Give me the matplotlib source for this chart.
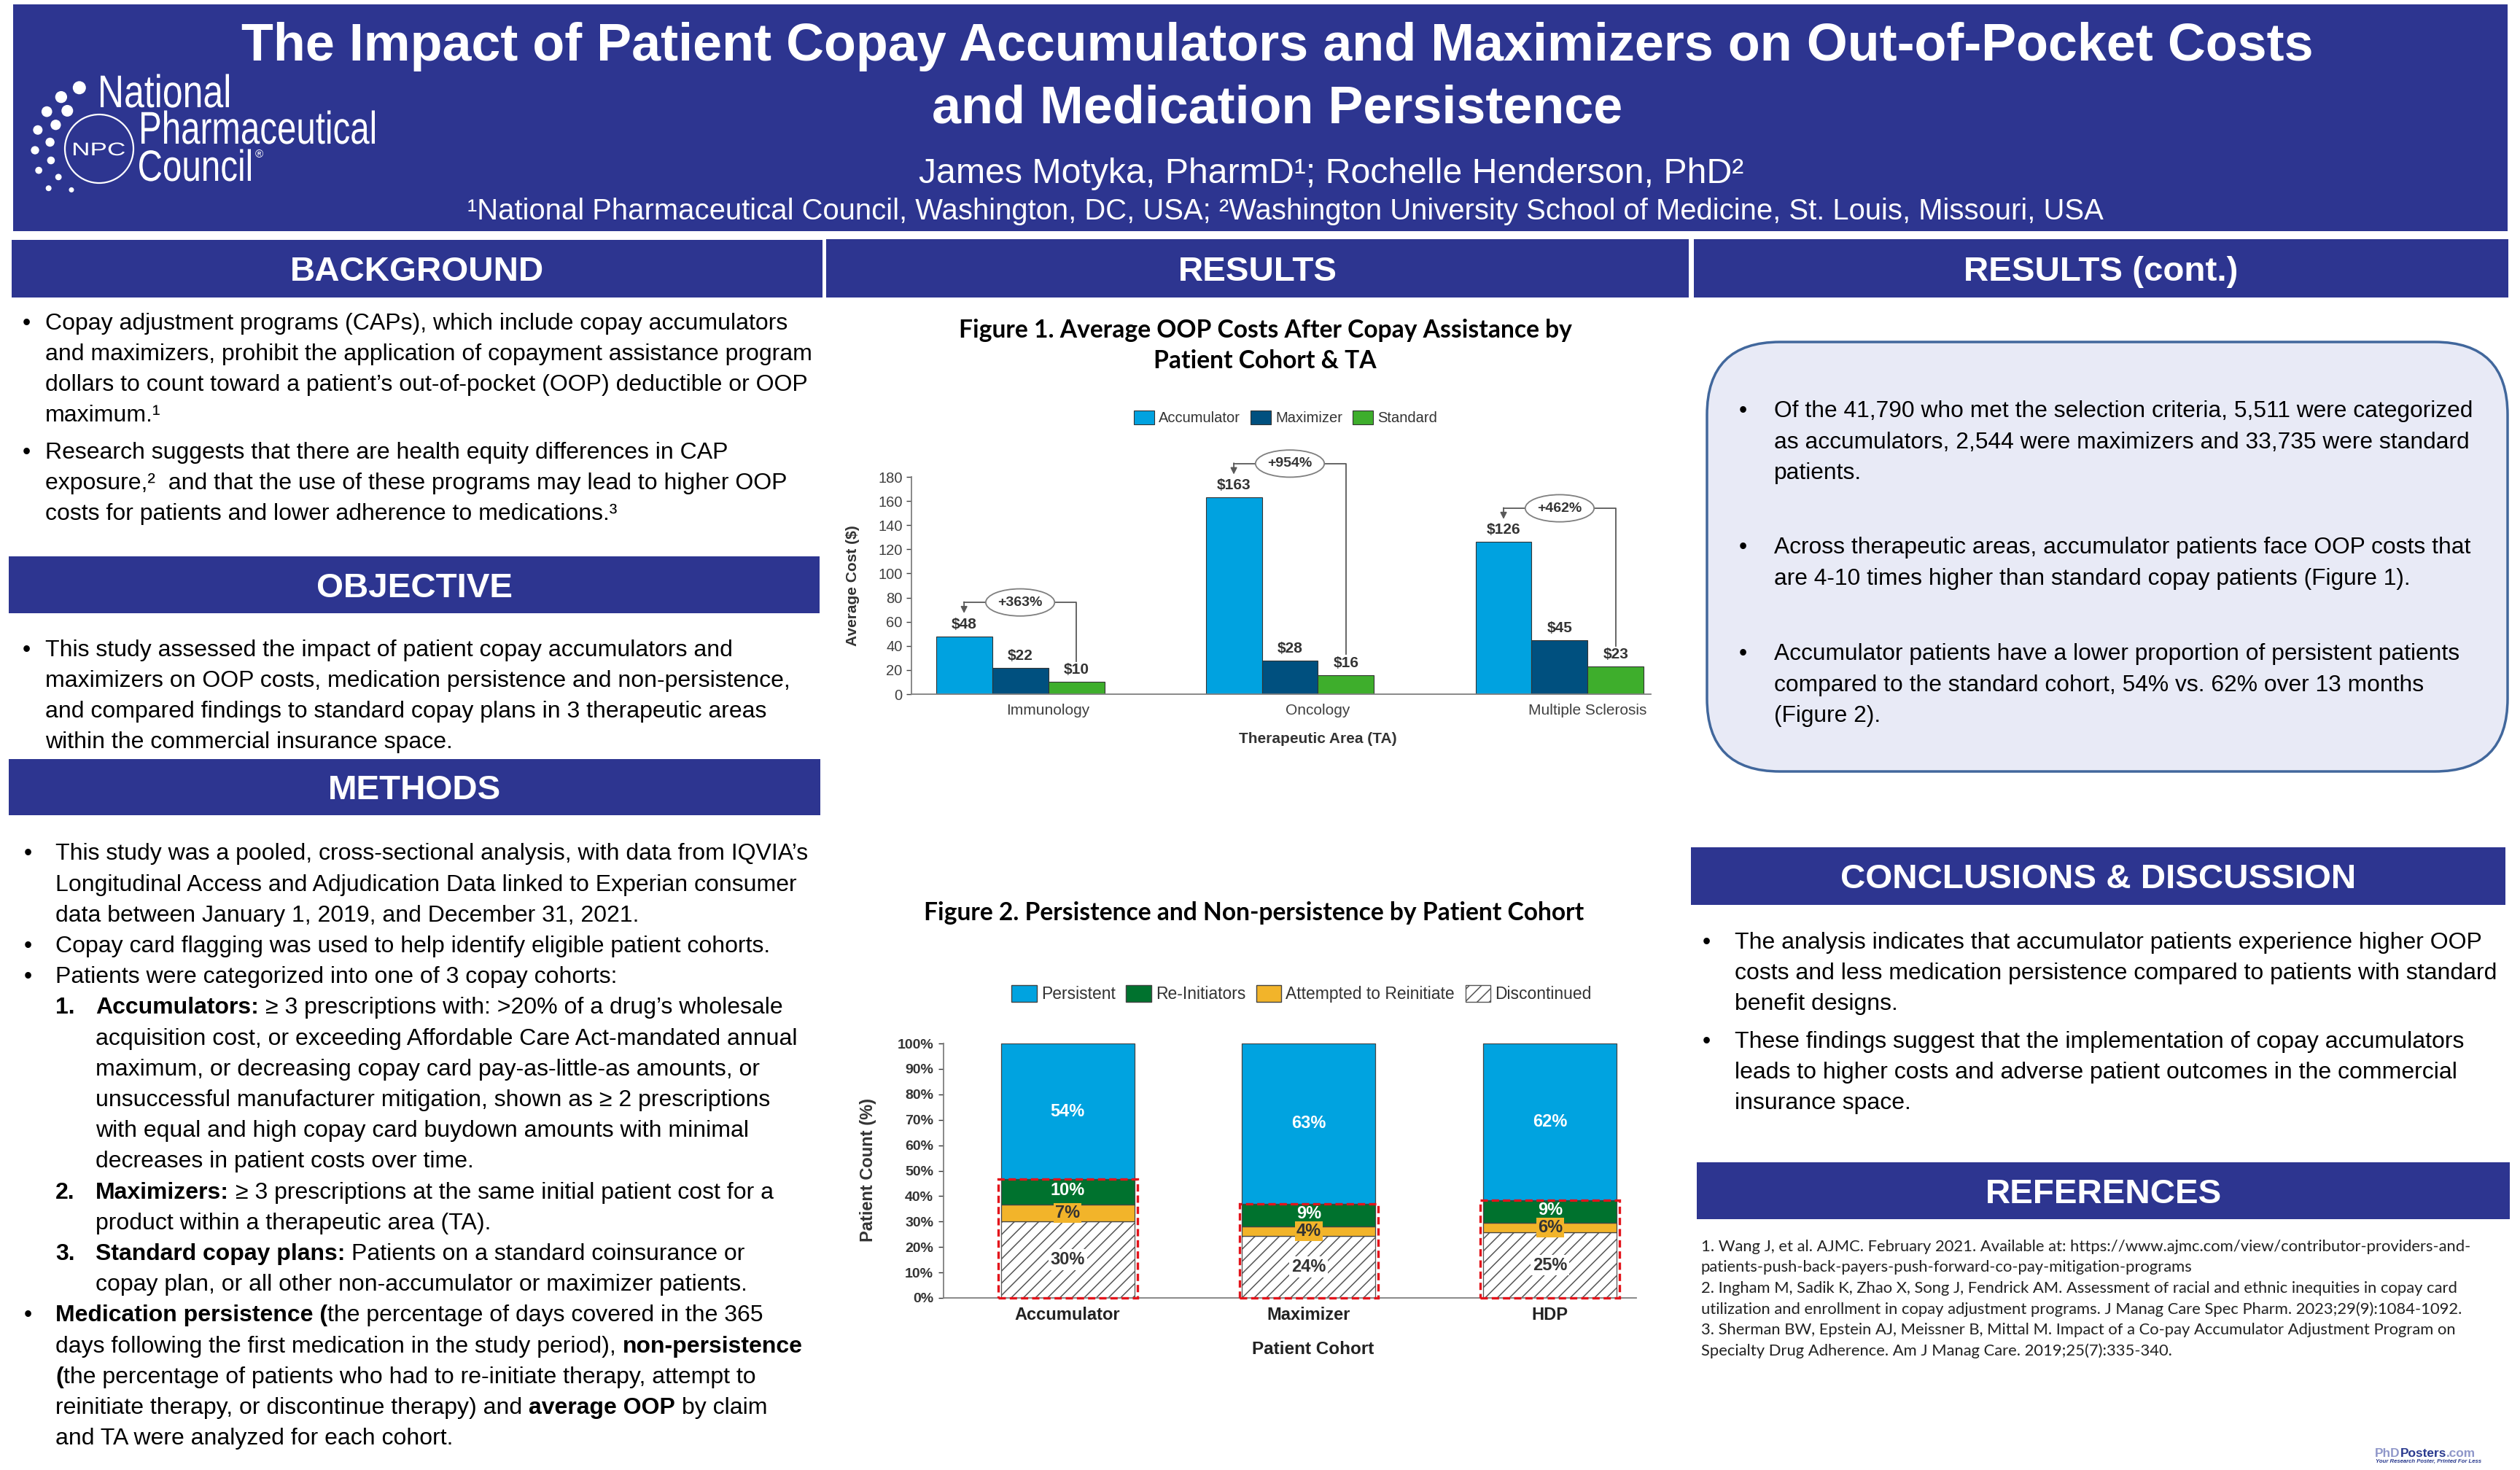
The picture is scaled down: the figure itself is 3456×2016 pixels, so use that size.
import matplotlib
matplotlib.use('Agg')
import matplotlib.pyplot as plt
from matplotlib.patches import Rectangle, FancyBboxPatch, Ellipse, Circle, Patch, PathPatch
from matplotlib.textpath import TextPath
from matplotlib.font_manager import FontProperties
from matplotlib.transforms import Affine2D
import numpy as np

plt.rcParams['font.family'] = ['Liberation Sans', 'DejaVu Sans']
plt.rcParams['hatch.linewidth'] = 1.1

# ---- Figure 1 data: average OOP cost by TA ----
areas = ['Immunology', 'Oncology', 'Multiple Sclerosis']
accumulator_cost = [48, 163, 126]
maximizer_cost = [22, 28, 45]
standard_cost = [10, 16, 23]
increase_labels = ['+363%', '+954%', '+462%']

# ---- Figure 2 data: persistence by cohort (segment heights) ----
cohorts = ['Accumulator', 'Maximizer', 'HDP']
discontinued = [30.1, 24.3, 25.7]
attempted = [6.6, 3.9, 3.8]
reinitiators = [9.9, 8.8, 8.8]
persistent = [53.4, 63.0, 61.7]
discontinued_lbl = ['30%', '24%', '25%']
attempted_lbl = ['7%', '4%', '6%']
reinitiators_lbl = ['10%', '9%', '9%']
persistent_lbl = ['54%', '63%', '62%']
pct_ticks = [0, 10, 20, 30, 40, 50, 60, 70, 80, 90, 100]
cost_ticks = [0, 20, 40, 60, 80, 100, 120, 140, 160, 180]

NAVY = '#2D3590'
ACC = '#00A2E0'
MAXC = '#00507F'
STD = '#3EAE2C'
PERS = '#00A3E0'
REIN = '#00722E'
ATT = '#F2B42A'
RED = '#E3141B'

W, H = 3456, 2016
fig = plt.figure(figsize=(W / 100, H / 100), dpi=100)
bg = fig.add_axes([0, 0, 1, 1])
bg.set_xlim(0, W)
bg.set_ylim(H, 0)
bg.axis('off')
rend = fig.canvas.get_renderer()


def px_axes(x0, y0, x1, y1):
    return fig.add_axes([x0 / W, 1 - y1 / H, (x1 - x0) / W, (y1 - y0) / H])


def fit(s, width, **kw):
    t = bg.text(0, 0, s, fontsize=20, **kw)
    w = t.get_window_extent(rend).width
    t.remove()
    return 20 * width / w


def base(y, size):
    # convert a cap-middle position to a baseline
    return y + 0.358 * size * 100 / 72


def bar(x0, y0, x1, y1, label, size):
    bg.add_patch(Rectangle((x0, y0), x1 - x0, y1 - y0, color=NAVY, lw=0))
    bg.text((x0 + x1) / 2, base((y0 + y1) / 2, size), label, color='white',
            fontsize=size, fontweight='bold', ha='center', va='baseline')


def runs(x, y, parts, size, **kw):
    t1 = bg.text(0, 0, 'a a', fontsize=size, **kw)
    t2 = bg.text(0, 0, 'aa', fontsize=size, **kw)
    sp = t1.get_window_extent(rend).width - t2.get_window_extent(rend).width
    t1.remove()
    t2.remove()
    for part in parts:
        s, bold = part[0], part[1]
        col = part[2] if len(part) > 2 else 'black'
        if s.startswith(' '):
            x += sp
            s = s[1:]
        t = bg.text(x, base(y, size), s, fontsize=size, va='baseline', color=col,
                    fontweight='bold' if bold else 'normal', **kw)
        x += t.get_window_extent(rend).width


def lines(x, y0, step, texts, size, **kw):
    for i, s in enumerate(texts):
        bg.text(x, base(y0 + i * step, size), s, fontsize=size, va='baseline', **kw)


def condensed(x, yb, s, width, cap, center=False):
    # squeeze the word to the given width, like the narrow face of the logo
    tp = TextPath((0, 0), s, size=100, prop=FontProperties(family='Liberation Sans'))
    ext = tp.get_extents()
    sx = width / ext.width
    sy = cap / 71.6
    x0 = x - (ext.x0 + ext.width / 2) * sx if center else x - ext.x0 * sx
    tr = Affine2D().scale(sx, -sy).translate(x0, yb) + bg.transData
    bg.add_patch(PathPatch(tp, fc='white', ec='none', transform=tr))


# ---------------- banner ----------------
bg.add_patch(Rectangle((18, 6), 3421, 311, color=NAVY, lw=0))
t1 = 'The Impact of Patient Copay Accumulators and Maximizers on Out-of-Pocket Costs'
ts = fit(t1, 2840, fontweight='bold')
bg.text(1752, base(57, ts), t1, color='white', fontsize=ts, fontweight='bold', ha='center', va='baseline')
bg.text(1752, base(143, ts), 'and Medication Persistence', color='white', fontsize=ts,
        fontweight='bold', ha='center', va='baseline')
au = 'James Motyka, PharmD¹; Rochelle Henderson, PhD²'
aus = fit(au, 1130)
bg.text(1826, base(234, aus), au, color='white', fontsize=aus, ha='center', va='baseline')
af = '¹National Pharmaceutical Council, Washington, DC, USA; ²Washington University School of Medicine, St. Louis, Missouri, USA'
afs = fit(af, 2241)
bg.text(1763, base(287, afs), af, color='white', fontsize=afs, ha='center', va='baseline')

# logo
cx, cy = 136, 204
bg.add_patch(Circle((cx, cy), 47, fill=False, ec='white', lw=1.6))
condensed(cx, cy + 9, 'NPC', 70, 18, center=True)
for rad, angs, sizes in [(88, np.linspace(108, 218, 7), np.linspace(9, 4, 7)),
                         (68, np.linspace(130, 236, 6), np.linspace(8, 3.5, 6))]:
    for a, s in zip(angs, sizes):
        bg.add_patch(Circle((cx + rad * np.cos(np.radians(a)), cy - rad * np.sin(np.radians(a))),
                            s, color='white', lw=0))
condensed(138, 147, 'National', 176, 45)
condensed(194, 197, 'Pharmaceutical', 320, 45)
condensed(191, 248, 'Council', 153, 43)
bg.text(350, 216, '®', color='white', fontsize=11, va='baseline')

# ---------------- section headers ----------------
hs = fit('BACKGROUND', 347, fontweight='bold')
bar(16, 329, 1128, 408, 'BACKGROUND', hs)
bar(1133, 328, 2316, 408, 'RESULTS', hs)
bar(2323, 328, 3440, 408, 'RESULTS (cont.)', hs)
bar(12, 763, 1124, 841, 'OBJECTIVE', hs)
bar(12, 1041, 1125, 1118, 'METHODS', hs)
bar(2319, 1162, 3436, 1241, 'CONCLUSIONS & DISCUSSION', hs)
bar(2327, 1594, 3442, 1672, 'REFERENCES', hs)

# ---------------- background ----------------
bgs = fit('Copay adjustment programs (CAPs), which include copay accumulators', 1014)
for y in [441, 618]:
    bg.text(31, base(y, bgs), '•', fontsize=bgs, va='baseline')
lines(62, 441, 42, ['Copay adjustment programs (CAPs), which include copay accumulators',
                    'and maximizers, prohibit the application of copayment assistance program',
                    'dollars to count toward a patient’s out-of-pocket (OOP) deductible or OOP',
                    'maximum.¹'], bgs)
lines(62, 618, 42, ['Research suggests that there are health equity differences in CAP',
                    'exposure,²  and that the use of these programs may lead to higher OOP',
                    'costs for patients and lower adherence to medications.³'], bgs)

# ---------------- objective ----------------
bg.text(31, base(889, bgs), '•', fontsize=bgs, va='baseline')
lines(62, 889, 42, ['This study assessed the impact of patient copay accumulators and',
                    'maximizers on OOP costs, medication persistence and non-persistence,',
                    'and compared findings to standard copay plans in 3 therapeutic areas',
                    'within the commercial insurance space.'], bgs)

# ---------------- methods ----------------
ms = fit('This study was a pooled, cross-sectional analysis, with data from IQVIA’s', 1031)
my = [1168 + i * 42.2 for i in range(20)]
for i in [0, 3, 4, 15]:
    bg.text(33, base(my[i], ms), '•', fontsize=ms, va='baseline')
plain = {0: 'This study was a pooled, cross-sectional analysis, with data from IQVIA’s',
         1: 'Longitudinal Access and Adjudication Data linked to Experian consumer',
         2: 'data between January 1, 2019, and December 31, 2021.',
         3: 'Copay card flagging was used to help identify eligible patient cohorts.',
         4: 'Patients were categorized into one of 3 copay cohorts:',
         19: 'and TA were analyzed for each cohort.'}
for i, s in plain.items():
    bg.text(76, base(my[i], ms), s, fontsize=ms, va='baseline')
sub = {6: 'acquisition cost, or exceeding Affordable Care Act-mandated annual',
       7: 'maximum, or decreasing copay card pay-as-little-as amounts, or',
       8: 'unsuccessful manufacturer mitigation, shown as ≥ 2 prescriptions',
       9: 'with equal and high copay card buydown amounts with minimal',
       10: 'decreases in patient costs over time.',
       12: 'product within a therapeutic area (TA).',
       14: 'copay plan, or all other non-accumulator or maximizer patients.'}
for i, s in sub.items():
    bg.text(131, base(my[i], ms), s, fontsize=ms, va='baseline')
for i, num in [(5, '1.'), (11, '2.'), (13, '3.')]:
    bg.text(76, base(my[i], ms), num, fontsize=ms, fontweight='bold', va='baseline')
runs(131, my[5], [('Accumulators:', True), (' ≥ 3 prescriptions with: >20% of a drug’s wholesale', False)], ms)
runs(131, my[11], [('Maximizers:', True), (' ≥ 3 prescriptions at the same initial patient cost for a', False)], ms)
runs(131, my[13], [('Standard copay plans:', True), (' Patients on a standard coinsurance or', False)], ms)
runs(76, my[15], [('Medication persistence (', True), ('the percentage of days covered in the 365', False)], ms)
runs(76, my[16], [('days following the first medication in the study period),', False),
                  (' non-persistence', True)], ms)
runs(76, my[17], [('(', True), ('the percentage of patients who had to re-initiate therapy, attempt to', False)], ms)
runs(76, my[18], [('reinitiate therapy, or discontinue therapy) and', False), (' average OOP', True),
                  (' by claim', False)], ms)

# ---------------- results (cont.) box ----------------
bg.add_patch(FancyBboxPatch((2341, 469), 1098, 589, boxstyle='round,pad=0,rounding_size=100',
                            fc='#E8EAF6', ec='#41679C', lw=2.5))
rs = fit('Of the 41,790 who met the selection criteria, 5,511 were categorized', 958)
for y in [561, 748, 894]:
    bg.text(2385, base(y, rs), '•', fontsize=rs, va='baseline')
lines(2433, 561, 42.5, ['Of the 41,790 who met the selection criteria, 5,511 were categorized',
                        'as accumulators, 2,544 were maximizers and 33,735 were standard',
                        'patients.'], rs)
lines(2433, 748, 42.5, ['Across therapeutic areas, accumulator patients face OOP costs that',
                        'are 4-10 times higher than standard copay patients (Figure 1).'], rs)
lines(2433, 894, 42.5, ['Accumulator patients have a lower proportion of persistent patients',
                        'compared to the standard cohort, 54% vs. 62% over 13 months',
                        '(Figure 2).'], rs)

# ---------------- conclusions ----------------
cs = fit('costs and less medication persistence compared to patients with standard', 1043)
for y in [1290, 1426]:
    bg.text(2335, base(y, cs), '•', fontsize=cs, va='baseline')
lines(2379, 1290, 42, ['The analysis indicates that accumulator patients experience higher OOP',
                       'costs and less medication persistence compared to patients with standard',
                       'benefit designs.'], cs)
lines(2379, 1426, 42, ['These findings suggest that the implementation of copay accumulators',
                       'leads to higher costs and adverse patient outcomes in the commercial',
                       'insurance space.'], cs)

# ---------------- references ----------------
refs = ['1. Wang J, et al. AJMC. February 2021. Available at: https://www.ajmc.com/view/contributor-providers-and-',
        'patients-push-back-payers-push-forward-co-pay-mitigation-programs',
        '2. Ingham M, Sadik K, Zhao X, Song J, Fendrick AM. Assessment of racial and ethnic inequities in copay card',
        'utilization and enrollment in copay adjustment programs. J Manag Care Spec Pharm. 2023;29(9):1084-1092.',
        '3. Sherman BW, Epstein AJ, Meissner B, Mittal M. Impact of a Co-pay Accumulator Adjustment Program on',
        'Specialty Drug Adherence. Am J Manag Care. 2019;25(7):335-340.']
fs_ref = fit(refs[0], 1056, family='Lato')
lines(2333, 1708, 28.6, refs, fs_ref, family='Lato', color='#222222')

# PhDPosters mark
pp = fit('PhDPosters.com', 138, fontweight='bold')
runs(3257, 1992, [('PhD', True, '#8F97C9'), ('Posters', True, '#2A3A8F'), ('.com', True, '#8F97C9')], pp)
bg.text(3258, 2006, 'Your Research Poster, Printed For Less', fontsize=5.6, style='italic',
        fontweight='bold', color='#2A3A8F', va='baseline')

# ---------------- figure titles ----------------
ft = fit('Figure 1. Average OOP Costs After Copay Assistance by', 841, family='Lato', fontweight='bold')
bg.text(1735, base(451, ft), 'Figure 1. Average OOP Costs After Copay Assistance by', fontsize=ft,
        family='Lato', fontweight='bold', ha='center', va='baseline')
bg.text(1735, base(493, ft), 'Patient Cohort & TA', fontsize=ft, family='Lato', fontweight='bold',
        ha='center', va='baseline')
bg.text(1720, base(1250, ft), 'Figure 2. Persistence and Non-persistence by Patient Cohort', fontsize=ft,
        family='Lato', fontweight='bold', ha='center', va='baseline')

# ---------------- Figure 1 chart ----------------
ax1 = px_axes(1250, 654, 2264, 952)
ax1.patch.set_alpha(0)
x = np.arange(len(areas))
w1 = 0.208
ax1.bar(x - w1, accumulator_cost, w1, color=ACC, edgecolor='#333333', lw=0.8, label='Accumulator')
ax1.bar(x, maximizer_cost, w1, color=MAXC, edgecolor='#333333', lw=0.8, label='Maximizer')
ax1.bar(x + w1, standard_cost, w1, color=STD, edgecolor='#333333', lw=0.8, label='Standard')
for off, vals in [(-w1, accumulator_cost), (0, maximizer_cost), (w1, standard_cost)]:
    for xi, v in zip(x, vals):
        ax1.annotate(f'${v}', (xi + off, v), xytext=(0, 5), textcoords='offset points',
                     ha='center', va='bottom', fontsize=15, fontweight='bold', color='#333333')
for xi, a, s, lbl in zip(x, accumulator_cost, standard_cost, increase_labels):
    top = a + 28
    ax1.plot([xi + w1, xi + w1, xi - w1], [s + 17, top, top], color='#595959', lw=1.3, clip_on=False)
    ax1.annotate('', xy=(xi - w1, a + 19), xytext=(xi - w1, top + 0.4), annotation_clip=False,
                 arrowprops=dict(arrowstyle='-|>', color='#595959', lw=1.3, mutation_scale=13,
                                 shrinkA=0, shrinkB=0))
    ax1.add_patch(Ellipse((xi, top), 0.255, 22.5, fc='white', ec='#7f7f7f', lw=1.3, clip_on=False, zorder=4))
    ax1.text(xi, top, lbl, ha='center', va='center', fontsize=14, fontweight='bold', color='#333333', zorder=5)
ax1.set_xlim(-0.403, 2.338)
ax1.set_ylim(0, 180)
ax1.set_yticks(cost_ticks)
# category names sit a little right of the group centre in the original
ax1.set_xticks(x + 0.103)
ax1.set_xticklabels(areas)
ax1.tick_params(axis='y', labelsize=14.5, colors='#404040', length=5, width=1, pad=4)
ax1.tick_params(axis='x', labelsize=15, colors='#404040', length=0, pad=9)
for sp in ['top', 'right']:
    ax1.spines[sp].set_visible(False)
for sp in ['left', 'bottom']:
    ax1.spines[sp].set_color('#7f7f7f')
    ax1.spines[sp].set_linewidth(1.3)
ax1.set_xlabel('Therapeutic Area (TA)', fontsize=15, fontweight='bold', color='#333333')
ax1.xaxis.set_label_coords(0.550, -0.205)
ax1.xaxis.label.set_va('center')
ax1.set_ylabel('Average Cost ($)', fontsize=15, fontweight='bold', color='#333333')
ax1.yaxis.set_label_coords(-0.079, 0.5)
ax1.yaxis.label.set_va('center')
ax1.legend(loc='center', bbox_to_anchor=(1763 / W, 1 - 573 / H), bbox_transform=fig.transFigure,
           ncol=3, frameon=False, fontsize=14.5, handlelength=1.4, handleheight=1.1,
           handletextpad=0.3, columnspacing=0.7, labelcolor='#333333')

# ---------------- Figure 2 chart ----------------
ax2 = px_axes(1294, 1431, 2244, 1780)
ax2.patch.set_alpha(0)
x2 = np.arange(len(cohorts))
w2 = 0.553
b1 = np.array(discontinued)
b2 = b1 + np.array(attempted)
b3 = b2 + np.array(reinitiators)
ax2.bar(x2, discontinued, w2, color='white', edgecolor='#555555', hatch='//', lw=0.9)
ax2.bar(x2, attempted, w2, bottom=b1, color=ATT, edgecolor='#444444', lw=0.9)
ax2.bar(x2, reinitiators, w2, bottom=b2, color=REIN, edgecolor='#444444', lw=0.9)
ax2.bar(x2, persistent, w2, bottom=b3, color=PERS, edgecolor='#444444', lw=0.9)
for i in range(len(cohorts)):
    ax2.text(x2[i], b1[i] / 2, discontinued_lbl[i], ha='center', va='center', fontsize=17,
             fontweight='bold', color='#333333',
             bbox=dict(boxstyle='square,pad=0.12', fc='white', ec='none'))
    ax2.text(x2[i], (b1[i] + b2[i]) / 2, attempted_lbl[i], ha='center', va='center', fontsize=17,
             fontweight='bold', color='#333333',
             bbox=dict(boxstyle='square,pad=0.08', fc=ATT, ec='none'), zorder=4)
    ax2.text(x2[i], (b2[i] + b3[i]) / 2 + 0.6, reinitiators_lbl[i], ha='center', va='center', fontsize=17,
             fontweight='bold', color='white', zorder=3)
    ax2.text(x2[i], (b3[i] + 100) / 2, persistent_lbl[i], ha='center', va='center', fontsize=17,
             fontweight='bold', color='white')
    ax2.add_patch(Rectangle((x2[i] - w2 / 2 - 0.012, 0), w2 + 0.024, b3[i], fill=False, ec=RED,
                            lw=2.4, ls=(0, (3, 1.6)), clip_on=False, zorder=6))
ax2.set_xlim(-0.514, 2.357)
ax2.set_ylim(0, 100)
ax2.set_yticks(pct_ticks)
ax2.set_yticklabels([f'{v}%' for v in pct_ticks], fontweight='bold')
ax2.set_xticks(x2)
ax2.set_xticklabels(cohorts, fontweight='bold')
ax2.tick_params(axis='y', labelsize=14, colors='#333333', length=5, width=1, pad=5)
ax2.tick_params(axis='x', labelsize=17, colors='#222222', length=0, pad=9)
for sp in ['top', 'right']:
    ax2.spines[sp].set_visible(False)
for sp in ['left', 'bottom']:
    ax2.spines[sp].set_color('#7f7f7f')
    ax2.spines[sp].set_linewidth(1.3)
ax2.set_xlabel('Patient Cohort', fontsize=17.5, fontweight='bold', color='#222222')
ax2.xaxis.set_label_coords(0.533, -0.203)
ax2.xaxis.label.set_va('center')
ax2.set_ylabel('Patient Count (%)', fontsize=17, fontweight='bold', color='#333333')
ax2.yaxis.set_label_coords(-0.109, 0.504)
ax2.yaxis.label.set_va('center')
handles = [Patch(fc=PERS, ec='#444444'), Patch(fc=REIN, ec='#444444'), Patch(fc=ATT, ec='#444444'),
           Patch(fc='white', ec='#555555', hatch='//')]
ax2.legend(handles, ['Persistent', 'Re-Initiators', 'Attempted to Reinitiate', 'Discontinued'],
           loc='center', bbox_to_anchor=(1785 / W, 1 - 1363 / H), bbox_transform=fig.transFigure,
           ncol=4, frameon=False, fontsize=16.5, handlelength=1.5, handleheight=1.2,
           handletextpad=0.26, columnspacing=0.65, labelcolor='#333333')

fig.savefig('out.png', dpi=100)
